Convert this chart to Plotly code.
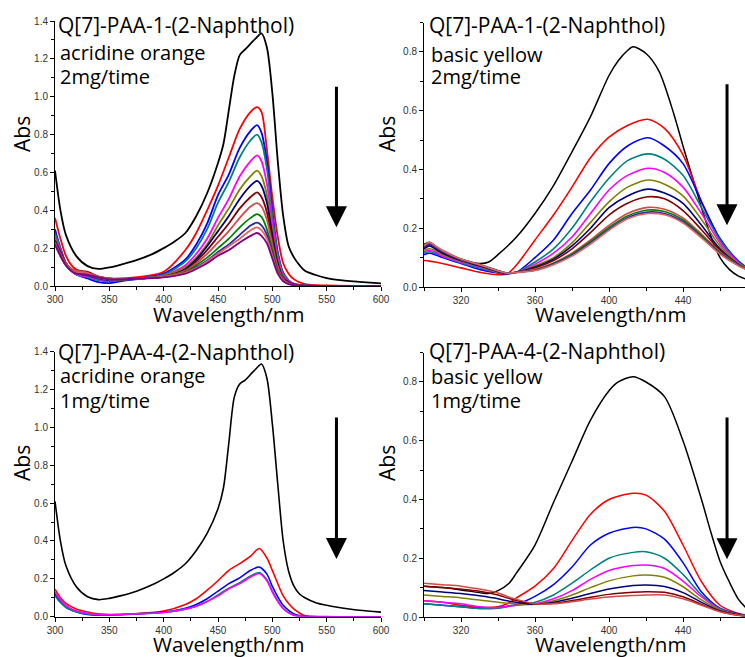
import plotly.graph_objects as go

# ---------------- data: acridine orange, Q[7]-PAA-1, 2 mg/time ----------------
ao2_black_wl = [300, 305, 310, 320, 330, 340, 350, 360, 375, 390, 400, 410, 420, 430, 440, 450, 455,
                460, 465, 470, 475, 480, 485, 490, 495, 500, 505, 510, 515, 520, 525, 530, 540, 550,
                560, 580, 600]
ao2_black = [0.61, 0.40, 0.27, 0.155, 0.105, 0.09, 0.098, 0.112, 0.137, 0.17, 0.20, 0.235, 0.28, 0.37,
             0.49, 0.65, 0.75, 0.93, 1.11, 1.22, 1.25, 1.28, 1.31, 1.335, 1.26, 1.02, 0.66, 0.37, 0.21,
             0.15, 0.11, 0.08, 0.058, 0.042, 0.032, 0.022, 0.014]

ao2_wl = [300, 305, 310, 315, 320, 330, 340, 350, 360, 380, 400, 420, 430, 440, 450, 460, 470, 480,
          486, 490, 495, 500, 505, 510, 515, 520, 530, 550, 600]
ao2_red = [0.36, 0.25, 0.16, 0.11, 0.085, 0.07, 0.05, 0.04, 0.04, 0.05, 0.075, 0.19, 0.28, 0.40, 0.53,
           0.68, 0.83, 0.92, 0.945, 0.92, 0.72, 0.47, 0.26, 0.12, 0.065, 0.035, 0.01, 0.003, 0.0]
ao2_blue = [0.30, 0.20, 0.12, 0.08, 0.06, 0.04, 0.02, 0.015, 0.025, 0.04, 0.065, 0.14, 0.22, 0.33, 0.48,
            0.59, 0.73, 0.82, 0.85, 0.81, 0.66, 0.40, 0.18, 0.07, 0.03, 0.012, 0.003, 0.0, 0.0]
ao2_teal = [0.28, 0.20, 0.12, 0.08, 0.06, 0.045, 0.03, 0.025, 0.03, 0.04, 0.06, 0.13, 0.20, 0.30, 0.44,
            0.55, 0.68, 0.77, 0.80, 0.76, 0.62, 0.37, 0.17, 0.065, 0.03, 0.012, 0.003, 0.0, 0.0]
ao2_magenta = [0.26, 0.19, 0.12, 0.08, 0.06, 0.05, 0.035, 0.03, 0.035, 0.04, 0.055, 0.11, 0.17, 0.25,
               0.36, 0.46, 0.58, 0.66, 0.69, 0.66, 0.54, 0.33, 0.15, 0.06, 0.025, 0.01, 0.003, 0.0, 0.0]
ao2_olive = [0.25, 0.18, 0.12, 0.08, 0.065, 0.055, 0.04, 0.035, 0.035, 0.04, 0.055, 0.10, 0.15, 0.22,
             0.32, 0.41, 0.51, 0.58, 0.61, 0.58, 0.48, 0.29, 0.13, 0.05, 0.02, 0.008, 0.002, 0.0, 0.0]
ao2_navy = [0.24, 0.18, 0.12, 0.085, 0.07, 0.06, 0.04, 0.035, 0.035, 0.04, 0.05, 0.09, 0.14, 0.21, 0.29,
            0.37, 0.46, 0.53, 0.555, 0.53, 0.44, 0.27, 0.12, 0.045, 0.02, 0.008, 0.002, 0.0, 0.0]
ao2_wine = [0.23, 0.17, 0.12, 0.09, 0.08, 0.075, 0.05, 0.04, 0.035, 0.04, 0.05, 0.085, 0.13, 0.19, 0.26,
            0.33, 0.41, 0.47, 0.495, 0.47, 0.39, 0.24, 0.11, 0.04, 0.018, 0.007, 0.002, 0.0, 0.0]
ao2_indianred = [0.23, 0.17, 0.12, 0.09, 0.08, 0.07, 0.05, 0.04, 0.035, 0.04, 0.05, 0.08, 0.12, 0.17,
                 0.23, 0.29, 0.36, 0.42, 0.438, 0.42, 0.35, 0.22, 0.10, 0.04, 0.015, 0.006, 0.002, 0.0, 0.0]
ao2_green = [0.22, 0.16, 0.11, 0.08, 0.07, 0.06, 0.045, 0.035, 0.035, 0.04, 0.05, 0.075, 0.11, 0.15,
             0.20, 0.25, 0.31, 0.36, 0.38, 0.365, 0.30, 0.19, 0.085, 0.035, 0.013, 0.005, 0.001, 0.0, 0.0]
ao2_royal = [0.22, 0.16, 0.11, 0.08, 0.065, 0.055, 0.04, 0.03, 0.035, 0.04, 0.05, 0.07, 0.10, 0.135,
             0.18, 0.22, 0.27, 0.32, 0.335, 0.32, 0.27, 0.17, 0.075, 0.03, 0.012, 0.005, 0.001, 0.0, 0.0]
ao2_salmon = [0.22, 0.16, 0.11, 0.08, 0.07, 0.065, 0.045, 0.035, 0.035, 0.04, 0.05, 0.07, 0.095, 0.13,
              0.17, 0.21, 0.25, 0.295, 0.31, 0.295, 0.25, 0.16, 0.07, 0.03, 0.012, 0.005, 0.001, 0.0, 0.0]
ao2_purple = [0.22, 0.16, 0.11, 0.08, 0.065, 0.06, 0.045, 0.035, 0.035, 0.04, 0.045, 0.065, 0.09, 0.12,
              0.16, 0.19, 0.23, 0.265, 0.28, 0.265, 0.225, 0.145, 0.065, 0.025, 0.01, 0.004, 0.001, 0.0, 0.0]

# ---------------- data: basic yellow, Q[7]-PAA-1, 2 mg/time ----------------
by2_black_wl = [300, 303, 306, 310, 320, 330, 335, 340, 350, 360, 370, 380, 390, 400, 405, 410, 413,
                420, 427, 435, 440, 445, 450, 455, 460, 465, 470, 475]
by2_black = [0.145, 0.152, 0.14, 0.12, 0.095, 0.08, 0.085, 0.11, 0.17, 0.25, 0.345, 0.46, 0.58, 0.72,
             0.77, 0.805, 0.818, 0.795, 0.735, 0.59, 0.48, 0.375, 0.27, 0.175, 0.10, 0.06, 0.037, 0.025]

by2_wl = [300, 303, 306, 310, 320, 330, 340, 345, 350, 360, 370, 380, 390, 400, 410, 421, 430, 440,
          450, 460, 470, 475]
by2_red = [0.09, 0.088, 0.085, 0.08, 0.065, 0.05, 0.042, 0.045, 0.075, 0.16, 0.245, 0.34, 0.44, 0.51,
           0.55, 0.571, 0.54, 0.45, 0.29, 0.16, 0.085, 0.065]
by2_blue = [0.11, 0.115, 0.11, 0.10, 0.08, 0.06, 0.048, 0.045, 0.05, 0.10, 0.16, 0.25, 0.33, 0.42, 0.48,
            0.508, 0.48, 0.42, 0.29, 0.165, 0.088, 0.065]
by2_teal = [0.115, 0.12, 0.115, 0.105, 0.082, 0.065, 0.05, 0.046, 0.05, 0.085, 0.13, 0.20, 0.29, 0.37,
            0.43, 0.453, 0.435, 0.38, 0.27, 0.16, 0.085, 0.063]
by2_magenta = [0.12, 0.125, 0.12, 0.105, 0.085, 0.068, 0.05, 0.046, 0.05, 0.078, 0.115, 0.17, 0.25,
               0.33, 0.38, 0.404, 0.39, 0.34, 0.25, 0.15, 0.083, 0.062]
by2_olive = [0.125, 0.13, 0.125, 0.11, 0.088, 0.07, 0.05, 0.046, 0.05, 0.072, 0.10, 0.15, 0.22, 0.29,
             0.34, 0.364, 0.35, 0.31, 0.23, 0.14, 0.08, 0.06]
by2_navy = [0.13, 0.14, 0.13, 0.115, 0.09, 0.072, 0.052, 0.046, 0.05, 0.068, 0.095, 0.14, 0.20, 0.27,
            0.31, 0.333, 0.32, 0.285, 0.21, 0.13, 0.077, 0.06]
by2_wine = [0.135, 0.145, 0.135, 0.12, 0.092, 0.075, 0.055, 0.046, 0.05, 0.065, 0.09, 0.13, 0.185, 0.245,
            0.285, 0.307, 0.30, 0.26, 0.195, 0.125, 0.075, 0.058]
by2_indianred = [0.14, 0.15, 0.14, 0.125, 0.095, 0.077, 0.056, 0.047, 0.05, 0.06, 0.082, 0.115, 0.16,
                 0.21, 0.25, 0.271, 0.265, 0.235, 0.18, 0.12, 0.075, 0.06]
by2_green = [0.138, 0.148, 0.138, 0.123, 0.094, 0.076, 0.055, 0.047, 0.05, 0.058, 0.08, 0.112, 0.155,
             0.203, 0.242, 0.262, 0.257, 0.228, 0.175, 0.117, 0.074, 0.059]
by2_royal = [0.136, 0.146, 0.136, 0.121, 0.093, 0.075, 0.055, 0.047, 0.05, 0.057, 0.078, 0.108, 0.15,
             0.197, 0.236, 0.255, 0.25, 0.222, 0.17, 0.114, 0.073, 0.058]
by2_salmon = [0.14, 0.152, 0.14, 0.124, 0.095, 0.076, 0.055, 0.047, 0.049, 0.056, 0.076, 0.105, 0.146,
              0.193, 0.232, 0.25, 0.246, 0.218, 0.167, 0.112, 0.072, 0.058]

# ---------------- data: acridine orange, Q[7]-PAA-4, 1 mg/time ----------------
ao1_black = [0.61, 0.40, 0.27, 0.155, 0.105, 0.09, 0.097, 0.11, 0.135, 0.17, 0.20, 0.235, 0.28, 0.35,
             0.44, 0.57, 0.68, 0.92, 1.16, 1.23, 1.25, 1.28, 1.31, 1.335, 1.26, 1.02, 0.70, 0.40, 0.24,
             0.16, 0.12, 0.10, 0.074, 0.06, 0.05, 0.034, 0.024]

ao1_wl = [300, 305, 310, 320, 330, 340, 350, 360, 380, 400, 420, 430, 440, 450, 460, 470, 480, 488,
          495, 500, 505, 510, 515, 520, 530, 550, 600]
ao1_red = [0.145, 0.10, 0.07, 0.04, 0.025, 0.015, 0.012, 0.012, 0.018, 0.03, 0.065, 0.095, 0.14, 0.19,
           0.245, 0.28, 0.32, 0.36, 0.31, 0.245, 0.175, 0.11, 0.07, 0.04, 0.006, 0.001, 0.0]
ao1_blue = [0.12, 0.08, 0.05, 0.025, 0.012, 0.008, 0.008, 0.01, 0.016, 0.025, 0.045, 0.065, 0.095, 0.135,
            0.175, 0.205, 0.245, 0.262, 0.225, 0.16, 0.105, 0.06, 0.033, 0.014, 0.002, 0.0, 0.0]
ao1_teal = [0.11, 0.075, 0.05, 0.025, 0.015, 0.01, 0.01, 0.012, 0.016, 0.022, 0.04, 0.055, 0.08, 0.115,
            0.15, 0.18, 0.215, 0.233, 0.195, 0.135, 0.085, 0.045, 0.022, 0.008, 0.001, 0.0, 0.0]
ao1_magenta = [0.13, 0.09, 0.06, 0.03, 0.018, 0.012, 0.01, 0.012, 0.016, 0.022, 0.04, 0.055, 0.08, 0.11,
               0.148, 0.175, 0.21, 0.228, 0.19, 0.13, 0.08, 0.042, 0.02, 0.007, 0.001, 0.0, 0.0]

# ---------------- data: basic yellow, Q[7]-PAA-4, 1 mg/time ----------------
by1_black_wl = [300, 310, 320, 330, 335, 340, 346, 350, 360, 370, 380, 390, 400, 405, 413, 420, 430,
                440, 450, 455, 460, 465, 470, 475]
by1_black = [0.105, 0.10, 0.092, 0.083, 0.08, 0.09, 0.115, 0.15, 0.245, 0.39, 0.53, 0.67, 0.77, 0.80,
             0.818, 0.80, 0.75, 0.60, 0.40, 0.29, 0.19, 0.12, 0.06, 0.025]

by1_wl = [300, 310, 320, 330, 340, 345, 350, 360, 370, 380, 390, 400, 413, 420, 430, 440, 450, 460,
          470, 475]
by1_red = [0.055, 0.05, 0.04, 0.033, 0.035, 0.045, 0.065, 0.105, 0.165, 0.26, 0.35, 0.40, 0.421, 0.415,
           0.36, 0.245, 0.12, 0.04, 0.012, 0.006]
by1_blue = [0.045, 0.04, 0.035, 0.03, 0.032, 0.037, 0.043, 0.07, 0.11, 0.17, 0.245, 0.285, 0.305, 0.30,
            0.265, 0.185, 0.085, 0.03, 0.01, 0.005]
by1_teal = [0.045, 0.04, 0.035, 0.028, 0.03, 0.035, 0.04, 0.05, 0.075, 0.115, 0.16, 0.20, 0.22, 0.222,
            0.20, 0.145, 0.075, 0.028, 0.008, 0.004]
by1_magenta = [0.055, 0.05, 0.045, 0.035, 0.032, 0.036, 0.04, 0.045, 0.062, 0.09, 0.128, 0.158, 0.175,
               0.177, 0.165, 0.122, 0.068, 0.026, 0.008, 0.004]
by1_olive = [0.075, 0.07, 0.065, 0.058, 0.05, 0.047, 0.045, 0.043, 0.055, 0.075, 0.10, 0.123, 0.14,
             0.143, 0.135, 0.103, 0.058, 0.024, 0.008, 0.004]
by1_navy = [0.09, 0.085, 0.08, 0.072, 0.062, 0.055, 0.05, 0.043, 0.05, 0.064, 0.08, 0.095, 0.107, 0.109,
            0.104, 0.083, 0.05, 0.021, 0.007, 0.003]
by1_wine = [0.105, 0.10, 0.095, 0.088, 0.075, 0.065, 0.056, 0.044, 0.047, 0.056, 0.067, 0.077, 0.084,
            0.086, 0.084, 0.069, 0.043, 0.019, 0.006, 0.003]
by1_indianred = [0.115, 0.11, 0.105, 0.095, 0.082, 0.07, 0.06, 0.045, 0.045, 0.052, 0.061, 0.068, 0.073,
                 0.075, 0.075, 0.062, 0.04, 0.018, 0.006, 0.003]

# ---------------- labels and axis ticks ----------------
panel_titles = ["Q[7]-PAA-1-(2-Naphthol)", "Q[7]-PAA-1-(2-Naphthol)",
                "Q[7]-PAA-4-(2-Naphthol)", "Q[7]-PAA-4-(2-Naphthol)"]
dye_labels = ["acridine orange", "basic yellow", "acridine orange", "basic yellow"]
dose_labels = ["2mg/time", "2mg/time", "1mg/time", "1mg/time"]
ao_xticks = [300, 350, 400, 450, 500, 550, 600]
by_xticks = [320, 360, 400, 440]
ao_yticks = [0.0, 0.2, 0.4, 0.6, 0.8, 1.0, 1.2, 1.4]
by_yticks = [0.0, 0.2, 0.4, 0.6, 0.8]

# trend arrows (tail -> head), in data units of each panel
arrow_x = [559, 463.8, 559, 463.8]
arrow_tail = [1.06, 0.695, 1.06, 0.684]
arrow_head = [0.31, 0.21, 0.305, 0.197]

# ---------------- styling ----------------
COL = {
    "black": "#000000", "red": "#FF0000", "blue": "#0000FF", "teal": "#008080",
    "magenta": "#FF00FF", "olive": "#808000", "navy": "#000080", "wine": "#800000",
    "indianred": "#D24A4A", "green": "#008000", "royal": "#2B2B9C", "salmon": "#E36464",
    "purple": "#800080",
}
W, H = 745, 657

fig = go.Figure()


def add(xs, ys, color, xa, ya, width=1.8):
    fig.add_trace(go.Scatter(
        x=xs, y=ys, mode="lines", xaxis=xa, yaxis=ya, showlegend=False,
        line=dict(color=COL[color], width=width, shape="spline", smoothing=0.8),
        hoverinfo="skip"))


# panel 1
add(ao2_black_wl, ao2_black, "black", "x", "y")
for name, vals in [("red", ao2_red), ("blue", ao2_blue), ("teal", ao2_teal),
                   ("magenta", ao2_magenta), ("olive", ao2_olive), ("navy", ao2_navy),
                   ("wine", ao2_wine), ("indianred", ao2_indianred), ("green", ao2_green),
                   ("royal", ao2_royal), ("salmon", ao2_salmon), ("purple", ao2_purple)]:
    add(ao2_wl, vals, name, "x", "y")

# panel 2
add(by2_black_wl, by2_black, "black", "x2", "y2", 1.5)
for name, vals in [("red", by2_red), ("blue", by2_blue), ("teal", by2_teal),
                   ("magenta", by2_magenta), ("olive", by2_olive), ("navy", by2_navy),
                   ("wine", by2_wine), ("indianred", by2_indianred), ("green", by2_green),
                   ("royal", by2_royal), ("salmon", by2_salmon)]:
    add(by2_wl, vals, name, "x2", "y2", 1.6)

# panel 3
add(ao2_black_wl, ao1_black, "black", "x3", "y3", 1.6)
for name, vals in [("red", ao1_red), ("blue", ao1_blue), ("teal", ao1_teal),
                   ("magenta", ao1_magenta)]:
    add(ao1_wl, vals, name, "x3", "y3", 1.6)

# panel 4
add(by1_black_wl, by1_black, "black", "x4", "y4", 1.5)
for name, vals in [("red", by1_red), ("blue", by1_blue), ("teal", by1_teal),
                   ("magenta", by1_magenta), ("olive", by1_olive), ("navy", by1_navy),
                   ("wine", by1_wine), ("indianred", by1_indianred)]:
    add(by1_wl, vals, name, "x4", "y4", 1.5)

tick_font = dict(family="Liberation Sans, Arial", size=10, color="#333333")


def axis_common(**kw):
    d = dict(showline=True, linecolor="black", linewidth=1, ticks="outside", ticklen=4,
             tickwidth=1, tickcolor="black", showgrid=False, zeroline=False, mirror=False,
             tickfont=tick_font, fixedrange=True, automargin=False)
    d.update(kw)
    return d


# pixel boxes of the four plot areas: (left, right, top, bottom)
boxes = [(55, 381, 21, 286), (424, 745, 22.6, 287), (55, 381, 351.7, 616.7), (424, 745, 352.6, 617)]


def xdom(b):
    return [b[0] / W, b[1] / W]


def ydom(b):
    return [1 - b[3] / H, 1 - b[2] / H]


layout_axes = {}
for i, b in enumerate(boxes):
    sfx = "" if i == 0 else str(i + 1)
    is_ao = i in (0, 2)
    layout_axes["xaxis" + sfx] = axis_common(
        domain=xdom(b), anchor="y" + sfx,
        range=[300, 600] if is_ao else [300, 300 + (b[1] - b[0]) / 1.85],
        tickvals=ao_xticks if is_ao else by_xticks,
        minor=dict(ticks="outside", ticklen=3, tickcolor="black",
                   dtick=25 if is_ao else 20, tick0=300))
    layout_axes["yaxis" + sfx] = axis_common(
        domain=ydom(b), anchor="x" + sfx,
        range=[0, 1.4] if is_ao else [0, 0.9],
        tickvals=ao_yticks if is_ao else by_yticks, tickformat=".1f",
        minor=dict(ticks="outside", ticklen=3, tickcolor="black", dtick=0.1, tick0=0))

text_font = "Open Sans, Noto Sans, sans-serif"
ann = []
# text lines per panel: (x px, title y, dye y, dose y)
text_pos = [(57, 24.5, 52, 76), (428, 24.5, 55, 76), (57, 352, 375, 400), (428, 351, 376, 400)]
for i, (tx, ty, dy, sy) in enumerate(text_pos):
    ann.append(dict(x=tx / W, y=1 - ty / H, xref="paper", yref="paper", xanchor="left",
                    yanchor="middle", showarrow=False, text=panel_titles[i], borderpad=0,
                    font=dict(family=text_font, size=21, color="black")))
    ann.append(dict(x=(tx + 2) / W, y=1 - dy / H, xref="paper", yref="paper", xanchor="left",
                    yanchor="middle", showarrow=False, text=dye_labels[i], borderpad=0,
                    font=dict(family=text_font, size=20, color="black")))
    ann.append(dict(x=(tx + 2) / W, y=1 - sy / H, xref="paper", yref="paper", xanchor="left",
                    yanchor="middle", showarrow=False, text=dose_labels[i], borderpad=0,
                    font=dict(family=text_font, size=20, color="black")))

# axis titles
abs_pos = [(22, 134), (387, 134), (22, 463), (387, 463)]
wl_pos = [(228, 314), (610, 314), (228, 644), (610, 644)]
for (ax_, ay_), (wx, wy) in zip(abs_pos, wl_pos):
    ann.append(dict(x=ax_ / W, y=1 - ay_ / H, xref="paper", yref="paper", xanchor="center",
                    yanchor="middle", showarrow=False, text="Abs", textangle=-90, borderpad=0,
                    font=dict(family=text_font, size=21, color="black")))
    ann.append(dict(x=wx / W, y=1 - wy / H, xref="paper", yref="paper", xanchor="center",
                    yanchor="middle", showarrow=False, text="Wavelength/nm", borderpad=0,
                    font=dict(family=text_font, size=20.5, color="black")))

# downward trend arrows
for i in range(4):
    sfx = "" if i == 0 else str(i + 1)
    ann.append(dict(x=arrow_x[i], y=arrow_head[i], ax=arrow_x[i], ay=arrow_tail[i],
                    xref="x" + sfx, yref="y" + sfx, axref="x" + sfx, ayref="y" + sfx,
                    text="", showarrow=True, arrowhead=2, arrowsize=1.4, arrowwidth=3,
                    arrowcolor="black", standoff=0))

fig.update_layout(width=W, height=H, margin=dict(l=0, r=0, t=0, b=0, autoexpand=False),
                  paper_bgcolor="white", plot_bgcolor="white", showlegend=False,
                  annotations=ann, **layout_axes)

fig.write_html("out.html")
